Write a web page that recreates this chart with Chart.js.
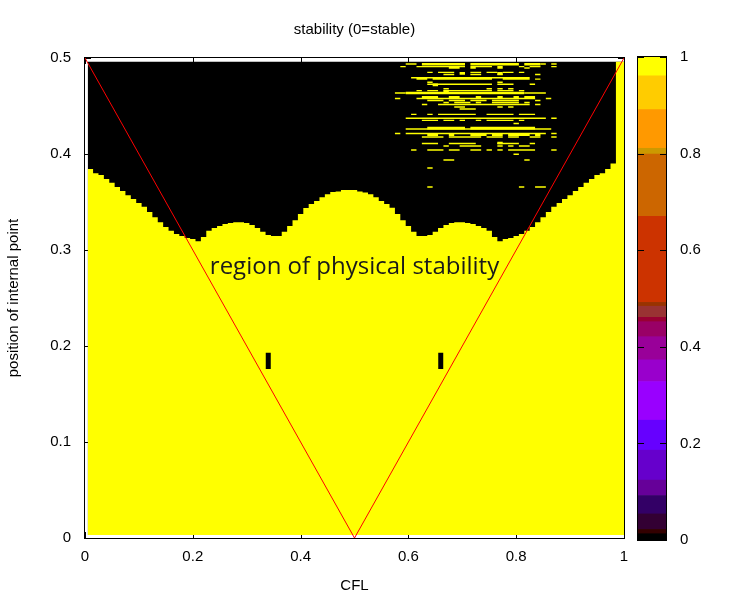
<!DOCTYPE html>
<html><head><meta charset="utf-8">
<script src="https://cdn.jsdelivr.net/npm/chart.js@4.4.1/dist/chart.umd.min.js"></script>
<style>
html,body{margin:0;padding:0;background:#fff;}
#wrap{position:relative;width:750px;height:600px;}
#main{position:absolute;left:0;top:0;}
#cbar{position:absolute;left:600px;top:0;}
</style></head><body>
<div id="wrap"><canvas id="main" width="750" height="600"></canvas><canvas id="cbar" width="150" height="600"></canvas></div>
<script>
// ---- data ----
const Y_MIN = 0.003, Y_MAX = 0.496;
const HALF = 0.005; // half width of one CFL cell
const cfl = [0.01,0.02,0.03,0.04,0.05,0.06,0.07,0.08,0.09,0.10,
 0.11,0.12,0.13,0.14,0.15,0.16,0.17,0.18,0.19,0.20,
 0.21,0.22,0.23,0.24,0.25,0.26,0.27,0.28,0.29,0.30,
 0.31,0.32,0.33,0.34,0.35,0.36,0.37,0.38,0.39,0.40,
 0.41,0.42,0.43,0.44,0.45,0.46,0.47,0.48,0.49,0.50,
 0.51,0.52,0.53,0.54,0.55,0.56,0.57,0.58,0.59,0.60,
 0.61,0.62,0.63,0.64,0.65,0.66,0.67,0.68,0.69,0.70,
 0.71,0.72,0.73,0.74,0.75,0.76,0.77,0.78,0.79,0.80,
 0.81,0.82,0.83,0.84,0.85,0.86,0.87,0.88,0.89,0.90,
 0.91,0.92,0.93,0.94,0.95,0.96,0.97,0.98,0.99,1.00];
// top of the stable (value 1 = yellow) region in each CFL column
const boundary = [0.3875,0.3844,0.380,0.378,0.374,0.370,0.3656,0.3615,0.357,0.353,
 0.349,0.345,0.3396,0.334,0.329,0.324,0.320,0.3167,0.3146,0.3125,
 0.3115,0.309,0.3135,0.320,0.323,0.325,0.327,0.328,0.329,0.329,
 0.328,0.326,0.323,0.319,0.3156,0.3146,0.3146,0.319,0.325,0.331,
 0.3375,0.3438,0.348,0.351,0.355,0.358,0.3604,0.361,0.3625,0.3625,
 0.3625,0.361,0.360,0.358,0.355,0.351,0.348,0.344,0.3375,0.331,
 0.325,0.319,0.3146,0.3146,0.3156,0.319,0.323,0.326,0.328,0.329,
 0.329,0.328,0.327,0.325,0.323,0.320,0.3135,0.309,0.3115,0.3125,
 0.3146,0.3167,0.320,0.324,0.329,0.334,0.3396,0.345,0.349,0.353,
 0.357,0.3615,0.3656,0.370,0.374,0.378,0.380,0.3844,0.390,0.496];
// isolated value-0 cells inside the stable region
const markX = [0.34, 0.66];
const markLo = [0.176, 0.176];
const markHi = [0.193, 0.193];
// scattered value-1 streaks inside the black region (thin rows)
const thinY = [0.4938,0.4910,0.4896,0.4850,0.4828,0.4794,0.4780,0.4747,0.4726,0.4680,
 0.4660,0.4635,0.4578,0.4557,0.4536,0.4516,0.4490,0.4469,0.4413,0.4372,
 0.4350,0.4318,0.4260,0.4214,0.4177,0.4109,0.4083,0.4042,0.3997,0.3937,
 0.3854,0.3656];
const thinSpans = [
 [0.595,0.615, 0.845,0.855, 0.865,0.875],
 [0.585,0.595, 0.615,0.705, 0.715,0.755, 0.765,0.775, 0.805,0.815, 0.825,0.845, 0.865,0.875],
 [0.675,0.695, 0.715,0.725, 0.765,0.775, 0.815,0.825],
 [0.635,0.645, 0.655,0.685, 0.715,0.735, 0.745,0.765, 0.775,0.795, 0.805,0.815],
 [0.665,0.685, 0.715,0.735, 0.765,0.775, 0.835,0.845],
 [0.605,0.825],
 [0.615,0.635, 0.645,0.755, 0.775,0.825, 0.835,0.845],
 [0.635,0.645, 0.765,0.775],
 [0.635,0.755, 0.765,0.795, 0.825,0.835],
 [0.665,0.675, 0.745,0.755, 0.765,0.775, 0.785,0.795],
 [0.615,0.625, 0.635,0.655, 0.665,0.755, 0.765,0.795, 0.805,0.815],
 [0.575,0.595, 0.815,0.855],
 [0.575,0.585, 0.615,0.835, 0.855,0.865],
 [0.635,0.665, 0.675,0.705, 0.715,0.745, 0.755,0.805, 0.835,0.845],
 [0.665,0.675, 0.685,0.715, 0.725,0.735, 0.755,0.805, 0.815,0.825],
 [0.625,0.635, 0.655,0.825, 0.835,0.845],
 [0.685,0.705, 0.765,0.775, 0.785,0.795],
 [0.695,0.725],
 [0.605,0.615, 0.635,0.645, 0.655,0.725, 0.745,0.795, 0.805,0.835],
 [0.595,0.855, 0.865,0.875],
 [0.625,0.655, 0.665,0.685, 0.695,0.705, 0.725,0.735, 0.745,0.795, 0.805,0.815],
 [0.795,0.805],
 [0.595,0.865],
 [0.575,0.585, 0.595,0.855, 0.865,0.875],
 [0.625,0.665, 0.675,0.735, 0.745,0.775, 0.785,0.805, 0.825,0.845, 0.865,0.875],
 [0.625,0.655, 0.675,0.725, 0.765,0.805, 0.825,0.835],
 [0.665,0.675, 0.695,0.735, 0.765,0.775, 0.785,0.795, 0.805,0.825],
 [0.605,0.615, 0.635,0.665, 0.675,0.695, 0.715,0.735, 0.745,0.755, 0.765,0.775, 0.785,0.835, 0.865,0.875],
 [0.795,0.805],
 [0.665,0.685, 0.815,0.825],
 [0.635,0.645],
 [0.635,0.645, 0.805,0.815, 0.835,0.855]];
// thicker streak rows
const thickY = [0.4935,0.4840,0.4720,0.4650,0.4635,0.4590,0.4270,0.4200,0.4115];
const thickSpans = [
 [0.625,0.705, 0.715,0.805, 0.815,0.845],
 [0.695,0.705, 0.765,0.775],
 [0.645,0.655],
 [0.665,0.675],
 [0.595,0.815],
 [0.625,0.655, 0.675,0.695, 0.725,0.735, 0.765,0.775, 0.795,0.805, 0.815,0.835],
 [0.635,0.705, 0.715,0.835],
 [0.635,0.655, 0.675,0.685, 0.715,0.745, 0.755,0.775, 0.785,0.825, 0.835,0.845],
 [0.765,0.775]];
// physical stability limit (red V)
const physX = [0, 0.5, 1];
const physY = [0.5, 0, 0.5];
// ticks
const xTicks = [0, 0.2, 0.4, 0.6, 0.8, 1];
const yTicks = [0, 0.1, 0.2, 0.3, 0.4, 0.5];
const cbTicks = [0, 0.2, 0.4, 0.6, 0.8, 1];
// colour box palette
const cbEdges = [0, 0.013, 0.022, 0.054, 0.092, 0.124, 0.186, 0.248, 0.328, 0.373, 0.421,
 0.452, 0.461, 0.484, 0.492, 0.670, 0.799, 0.811, 0.891, 0.961, 1.0];
const cbColors = ['#000000','#330000','#330033','#330066','#660099','#6600cc','#6600ff','#9900ff',
 '#9900cc','#990099','#990066','#990033','#993333','#993300','#cc3300','#cc6600','#cc9900',
 '#ff9900','#ffcc00','#ffff00'];
const labelText = 'region of physical stability';
const labelX = 0.5, labelY = 0.275;

// ---- drawing ----
const FONT = "'Liberation Sans', Arial, sans-serif";
const tickFont = {family: FONT, size: 15, weight: 'normal'};
const YELLOW = '#ffff00';
const fmt = v => String(v);

function spansToPoints(ys, spans) {
  const pts = [];
  ys.forEach((y, i) => {
    const s = spans[i];
    for (let j = 0; j < s.length; j += 2) {
      pts.push({x: s[j], y: y}, {x: s[j + 1], y: y}, {x: s[j + 1], y: null});
    }
  });
  return pts;
}
// stepped outline: each column starts at its left cell edge
const stablePts = cfl.map((v, i) => ({x: v - HALF, y: boundary[i]}));
stablePts.push({x: cfl[cfl.length - 1] + HALF, y: boundary[boundary.length - 1]});
const fieldPts = [{x: cfl[0] - HALF, y: Y_MAX}, {x: cfl[cfl.length - 1] + HALF, y: Y_MAX}];
const markPts = [];
markX.forEach((v, i) => { markPts.push({x: v, y: markLo[i]}, {x: v, y: markHi[i]}, {x: v, y: null}); });

const frame = {
  id: 'frame',
  beforeDatasetsDraw(chart) {
    const {ctx, chartArea: a, scales: {x, y}} = chart;
    ctx.save();
    ctx.strokeStyle = '#000'; ctx.lineWidth = 1;
    ctx.beginPath();
    xTicks.forEach(v => {
      const px = Math.round(x.getPixelForValue(v)) + 0.5;
      ctx.moveTo(px, a.bottom); ctx.lineTo(px, a.bottom - 6);
      ctx.moveTo(px, a.top); ctx.lineTo(px, a.top + 6);
    });
    yTicks.forEach(v => {
      const py = Math.round(y.getPixelForValue(v)) + 0.5;
      ctx.moveTo(a.left, py); ctx.lineTo(a.left + 6, py);
      ctx.moveTo(a.right, py); ctx.lineTo(a.right - 6, py);
    });
    ctx.stroke();
    ctx.restore();
  },
  afterDatasetsDraw(chart) {
    const {ctx, chartArea: a, scales: {x, y}} = chart;
    ctx.save();
    ctx.strokeStyle = '#000'; ctx.lineWidth = 1;
    ctx.strokeRect(Math.round(a.left) - 0.5, Math.round(a.top) - 0.5,
      Math.round(a.right - a.left) + 1, Math.round(a.bottom - a.top) + 1);
    ctx.fillStyle = '#1a1a1a';
    ctx.font = "24px 'Open Sans', sans-serif";
    ctx.textAlign = 'center';
    ctx.textBaseline = 'alphabetic';
    ctx.fillText(labelText, x.getPixelForValue(labelX), y.getPixelForValue(labelY));
    ctx.restore();
  }
};

const lineBase = {pointRadius: 0, tension: 0, spanGaps: false, borderCapStyle: 'butt'};

new Chart(document.getElementById('main'), {
  type: 'line',
  data: {
    datasets: [
      Object.assign({label: 'limit', data: physX.map((v, i) => ({x: v, y: physY[i]})),
       borderColor: '#ff0000', borderWidth: 1, fill: false, order: 0}, lineBase),
      Object.assign({label: 'thick', data: spansToPoints(thickY, thickSpans),
       borderColor: YELLOW, borderWidth: 2.6, fill: false, order: 1}, lineBase),
      Object.assign({label: 'thin', data: spansToPoints(thinY, thinSpans),
       borderColor: YELLOW, borderWidth: 1.4, fill: false, order: 2}, lineBase),
      Object.assign({label: 'marks', data: markPts,
       borderColor: '#000000', borderWidth: 5, fill: false, order: 3}, lineBase),
      Object.assign({label: 'stable', data: stablePts, stepped: 'after',
       borderColor: 'rgba(0,0,0,0)', borderWidth: 0, backgroundColor: YELLOW,
       fill: {value: Y_MIN}, order: 4}, lineBase),
      Object.assign({label: 'unstable', data: fieldPts,
       borderColor: 'rgba(0,0,0,0)', borderWidth: 0, backgroundColor: '#000000',
       fill: {value: Y_MIN}, order: 5}, lineBase)
    ]
  },
  options: {
    responsive: false, animation: false, devicePixelRatio: 1, events: [],
    layout: {padding: {top: 0, right: 126, bottom: 0, left: 0}},
    plugins: {
      legend: {display: false}, tooltip: {enabled: false},
      filler: {propagate: false},
      title: {display: true, text: 'stability (0=stable)', fullSize: false, color: '#000',
        font: tickFont, padding: {top: 21, bottom: 19}}
    },
    scales: {
      x: {type: 'linear', min: 0, max: 1, offset: false,
        grid: {display: false, drawTicks: false}, border: {display: false},
        afterBuildTicks: s => { s.ticks = xTicks.map(v => ({value: v})); },
        afterFit: s => { s.height = 62; },
        ticks: {padding: 10, color: '#000', font: tickFont, maxRotation: 0, autoSkip: false, callback: fmt},
        title: {display: true, text: 'CFL', color: '#000', font: tickFont, padding: {top: 0, bottom: 5}}},
      y: {type: 'linear', min: 0, max: 0.5,
        grid: {display: false, drawTicks: false}, border: {display: false},
        afterBuildTicks: s => { s.ticks = yTicks.map(v => ({value: v})); },
        afterFit: s => { s.width = 85; },
        ticks: {padding: 14, color: '#000', font: tickFont, autoSkip: false, callback: fmt},
        title: {display: true, text: 'position of internal point', color: '#000', font: tickFont,
          padding: {top: 5, bottom: 0}}}
    }
  },
  plugins: [frame]
});

const cbFrame = {
  id: 'cbFrame',
  afterDatasetsDraw(chart) {
    const {ctx, chartArea: a, scales: {y}} = chart;
    ctx.save();
    ctx.strokeStyle = '#000'; ctx.lineWidth = 1;
    ctx.strokeRect(Math.round(a.left) - 0.5, Math.round(a.top) - 0.5,
      Math.round(a.right - a.left) + 1, Math.round(a.bottom - a.top) + 1);
    ctx.beginPath();
    cbTicks.forEach(v => {
      const py = Math.round(y.getPixelForValue(v)) + 0.5;
      ctx.moveTo(a.left, py); ctx.lineTo(a.left + 6, py);
      ctx.moveTo(a.right, py); ctx.lineTo(a.right - 6, py);
    });
    ctx.stroke();
    ctx.restore();
  }
};

new Chart(document.getElementById('cbar'), {
  type: 'bar',
  data: {
    labels: [''],
    datasets: cbColors.map((c, i) => ({data: [[cbEdges[i], cbEdges[i + 1]]], backgroundColor: c,
      borderWidth: 0, grouped: false, barPercentage: 1, categoryPercentage: 1}))
  },
  options: {
    responsive: false, animation: false, devicePixelRatio: 1, events: [],
    layout: {padding: {top: 57, right: 0, bottom: 60, left: 38}},
    plugins: {legend: {display: false}, tooltip: {enabled: false}},
    scales: {
      x: {display: false},
      y: {position: 'right', min: 0, max: 1,
        grid: {display: false, drawTicks: false}, border: {display: false},
        afterBuildTicks: s => { s.ticks = cbTicks.map(v => ({value: v})); },
        afterFit: s => { s.width = 84; },
        ticks: {padding: 14, color: '#000', font: tickFont, autoSkip: false, callback: fmt}}
    }
  },
  plugins: [cbFrame]
});
</script>
</body></html>
